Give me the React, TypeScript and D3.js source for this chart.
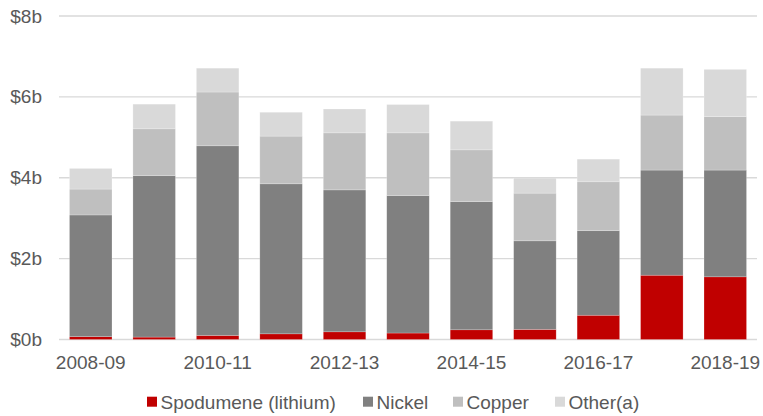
import React from "react";
import * as d3 from "d3";

// Financial years
const years = [
  "2008-09", "2009-10", "2010-11", "2011-12", "2012-13", "2013-14",
  "2014-15", "2015-16", "2016-17", "2017-18", "2018-19",
];

// Values in $ billion
const spodumene = [0.07, 0.06, 0.10, 0.14, 0.19, 0.16, 0.24, 0.25, 0.60, 1.59, 1.55];
const nickel = [3.01, 3.99, 4.69, 3.71, 3.51, 3.40, 3.17, 2.19, 2.09, 2.60, 2.64];
const copper = [0.64, 1.16, 1.33, 1.18, 1.41, 1.55, 1.28, 1.18, 1.21, 1.36, 1.32];
const other = [0.51, 0.61, 0.59, 0.59, 0.59, 0.70, 0.71, 0.37, 0.56, 1.16, 1.17];

const seriesNames = ["Spodumene (lithium)", "Nickel", "Copper", "Other(a)"];
const seriesColors = ["#C00000", "#808080", "#BFBFBF", "#D9D9D9"];
const yTicks = [0, 2, 4, 6, 8];
const xLabelYears = ["2008-09", "2010-11", "2012-13", "2014-15", "2016-17", "2018-19"];

const W = 763;
const H = 416;
const FONT = "'Liberation Sans', Arial, sans-serif";
const TEXT = "#595959";
const FONT_SIZE = 19;

export default function App() {
  const keys = ["s", "n", "c", "o"];
  const rows = years.map((y, i) => ({
    year: y,
    s: spodumene[i],
    n: nickel[i],
    c: copper[i],
    o: other[i],
  }));
  const stacked = d3.stack<any>().keys(keys)(rows);

  const x = d3.scaleBand<string>().domain(years).range([59, 757]).paddingInner(0.33).paddingOuter(0.165);
  const y = d3.scaleLinear().domain([0, 8]).range([339.5, 16]);

  // Legend entries: swatch x positions
  const legendX = [147, 363, 453, 555];
  const legendItems = seriesNames.map((name, i) => ({ x: legendX[i], name, color: seriesColors[i] }));

  return (
    <svg width={W} height={H} style={{ display: "block", position: "absolute", left: 0, top: 0 }}>
      <rect width={W} height={H} fill="#fff" />
      {yTicks.map((t) => (
        <g key={t}>
          <line x1={59} x2={757} y1={y(t)} y2={y(t)} stroke="#D9D9D9" strokeWidth={1.3} />
          <text
            x={42}
            y={y(t)}
            textAnchor="end"
            dominantBaseline="central"
            fontFamily={FONT}
            fontSize={FONT_SIZE}
            fill={TEXT}
          >
            {`$${t}b`}
          </text>
        </g>
      ))}
      {stacked.map((layer, li) => (
        <g key={layer.key} fill={seriesColors[li]}>
          {layer.map((d, i) => (
            <rect
              key={i}
              x={x(years[i])}
              width={x.bandwidth()}
              y={y(d[1])}
              height={y(d[0]) - y(d[1])}
              stroke="#ffffff"
              strokeOpacity={0.35}
              strokeWidth={0.6}
            />
          ))}
        </g>
      ))}
      {xLabelYears.map((yr) => (
        <text
          key={yr}
          x={(x(yr) as number) + x.bandwidth() / 2}
          y={362}
          textAnchor="middle"
          dominantBaseline="central"
          fontFamily={FONT}
          fontSize={FONT_SIZE}
          fill={TEXT}
        >
          {yr}
        </text>
      ))}
      {legendItems.map((it) => (
        <g key={it.name}>
          <rect x={it.x} y={396.7} width={10} height={10} fill={it.color} />
          <text
            x={it.x + 13.5}
            y={402}
            dominantBaseline="central"
            fontFamily={FONT}
            fontSize={FONT_SIZE}
            fill={TEXT}
          >
            {it.name}
          </text>
        </g>
      ))}
    </svg>
  );
}
